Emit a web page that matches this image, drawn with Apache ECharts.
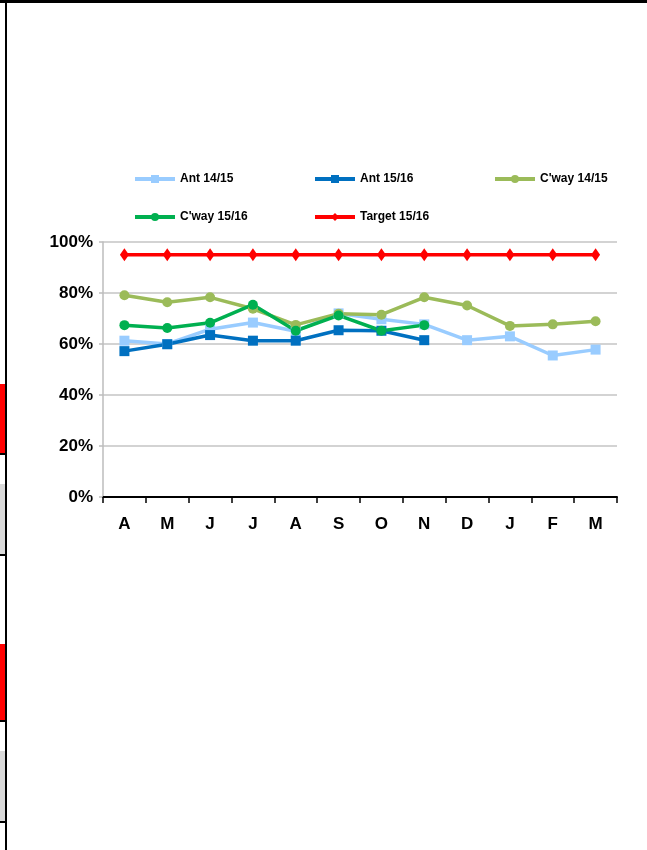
<!DOCTYPE html>
<html>
<head>
<meta charset="utf-8">
<script src="https://cdn.jsdelivr.net/npm/echarts@6/dist/echarts.min.js"></script>
<style>
  html, body { margin: 0; padding: 0; background: #fff; }
  #chart { width: 647px; height: 850px; }
</style>
</head>
<body>
<div id="chart"></div>
<script>
// Monthly percentages, April to March
const months = ['A', 'M', 'J', 'J', 'A', 'S', 'O', 'N', 'D', 'J', 'F', 'M'];
const ant1415 = [61.3, 60, 65.8, 68.4, 65, 72, 69.7, 67.7, 61.5, 63, 55.5, 57.8];
const ant1516 = [57.2, 59.9, 63.5, 61.3, 61.3, 65.4, 65.2, 61.5];
const cway1415 = [79.1, 76.4, 78.3, 73.8, 67.5, 71.9, 71.5, 78.3, 75.1, 67.1, 67.7, 68.9];
const cway1516 = [67.4, 66.3, 68.3, 75.4, 65.2, 71.2, 65.2, 67.4];
const target1516 = [95, 95, 95, 95, 95, 95, 95, 95, 95, 95, 95, 95];
const yTicks = [0, 20, 40, 60, 80, 100];

const FONT = '"Liberation Sans Narrow", "Liberation Sans", Arial, sans-serif';

const chart = echarts.init(document.getElementById('chart'), null, { renderer: 'canvas' });

function lineSeries(name, data, color, symbol, size) {
  return {
    name, type: 'line', data,
    symbol, symbolSize: size,
    showSymbol: true,
    lineStyle: { color, width: 3.5 },
    itemStyle: { color },
    emphasis: { disabled: true },
    animation: false,
    z: 3
  };
}

function legendAt(name, left, top) {
  return {
    data: [name], left, top,
    itemWidth: 40, itemHeight: 10, itemGap: 5,
    lineStyle: { width: 4 },
    textStyle: { fontFamily: FONT, fontWeight: 'bold', fontSize: 12, color: '#000' },
    selectedMode: false
  };
}

chart.setOption({
  backgroundColor: '#fff',
  animation: false,
  legend: [
    legendAt('Ant 14/15', 128, 168),
    legendAt('Ant 15/16', 308, 168),
    legendAt("C'way 14/15", 488, 168),
    legendAt("C'way 15/16", 128, 206),
    legendAt('Target 15/16', 308, 206)
  ],
  grid: { left: 103, right: 30, top: 242, bottom: 353, containLabel: false },
  xAxis: {
    type: 'category',
    data: months,
    boundaryGap: true,
    axisLine: { lineStyle: { color: '#000', width: 2 } },
    axisTick: { show: true, length: 6, lineStyle: { color: '#000', width: 1.5 } },
    axisLabel: { fontFamily: FONT, fontWeight: 'bold', fontSize: 17, color: '#000', margin: 19 },
    splitLine: { show: false }
  },
  yAxis: {
    type: 'value',
    min: yTicks[0], max: yTicks[yTicks.length - 1], interval: 20,
    axisLine: { show: true, lineStyle: { color: '#bdbdbd', width: 1.5 } },
    axisTick: { show: true, length: 4, lineStyle: { color: '#bdbdbd', width: 1.5 } },
    axisLabel: {
      fontFamily: FONT, fontWeight: 'bold', fontSize: 17, color: '#000', margin: 10,
      formatter: v => v + '%'
    },
    splitLine: { show: true, lineStyle: { color: '#c4c4c4', width: 1.5 } }
  },
  graphic: [
    // page frame and side tabs
    { type: 'rect', shape: { x: 0, y: 0, width: 647, height: 3 }, style: { fill: '#000' } },
    { type: 'rect', shape: { x: 5, y: 0, width: 2, height: 850 }, style: { fill: '#000' } },
    { type: 'rect', shape: { x: 0, y: 384, width: 5, height: 69 }, style: { fill: '#ff0000' } },
    { type: 'rect', shape: { x: 0, y: 453, width: 5, height: 2 }, style: { fill: '#000' } },
    { type: 'rect', shape: { x: 0, y: 484, width: 5, height: 70 }, style: { fill: '#d9d9d9' } },
    { type: 'rect', shape: { x: 0, y: 554, width: 5, height: 2 }, style: { fill: '#000' } },
    { type: 'rect', shape: { x: 0, y: 644, width: 5, height: 76 }, style: { fill: '#ff0000' } },
    { type: 'rect', shape: { x: 0, y: 720, width: 5, height: 2 }, style: { fill: '#000' } },
    { type: 'rect', shape: { x: 0, y: 751, width: 5, height: 70 }, style: { fill: '#d9d9d9' } },
    { type: 'rect', shape: { x: 0, y: 821, width: 5, height: 2 }, style: { fill: '#000' } }
  ],
  series: [
    lineSeries('Ant 14/15', ant1415, '#99ccff', 'rect', 10),
    lineSeries('Ant 15/16', ant1516, '#0070c0', 'rect', 10),
    lineSeries("C'way 14/15", cway1415, '#9bbb59', 'circle', 10),
    lineSeries("C'way 15/16", cway1516, '#00b050', 'circle', 10),
    lineSeries('Target 15/16', target1516, '#ff0000', 'diamond', [9, 13])
  ]
});
</script>
</body>
</html>
